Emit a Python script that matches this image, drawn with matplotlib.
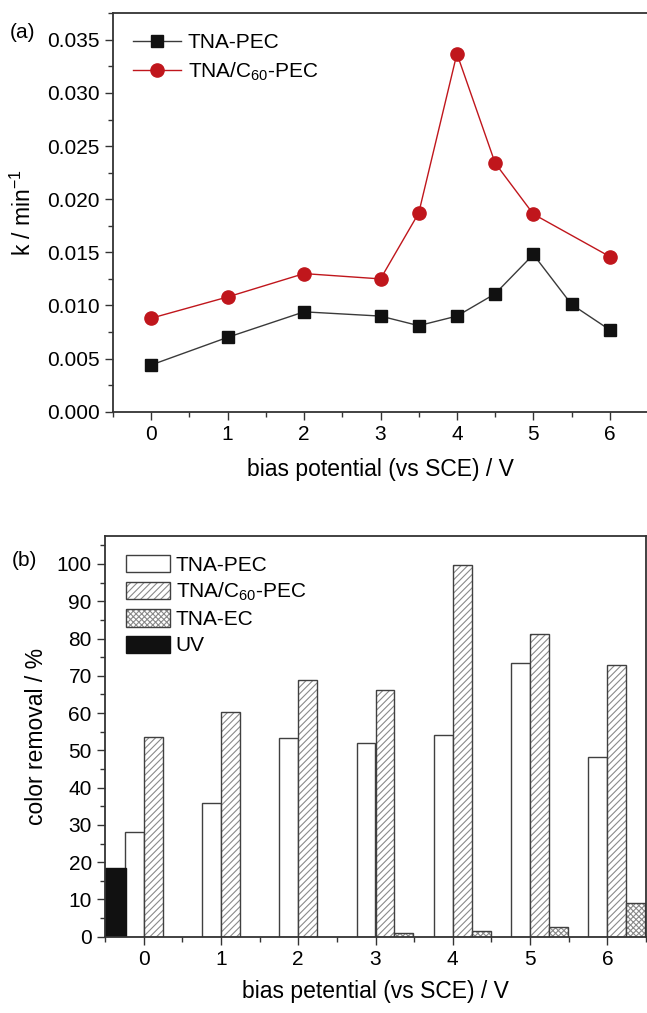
import numpy as np
import matplotlib
matplotlib.use('Agg')
import matplotlib.pyplot as plt
from matplotlib.ticker import MultipleLocator, AutoMinorLocator

plt.rcParams['font.family'] = ['Liberation Sans', 'DejaVu Sans']
plt.rcParams['mathtext.fontset'] = 'custom'
plt.rcParams['mathtext.rm'] = 'Liberation Sans'
plt.rcParams['mathtext.it'] = 'Liberation Sans'
plt.rcParams['mathtext.default'] = 'regular'
plt.rcParams['hatch.linewidth'] = 0.8

# (a) rate constants
x_pec = [0, 1, 2, 3, 3.5, 4, 4.5, 5, 5.5, 6]
k_pec = [0.0044, 0.0070, 0.0094, 0.0090, 0.0081, 0.0090, 0.0111, 0.0148, 0.0101, 0.0077]
x_c60 = [0, 1, 2, 3, 3.5, 4, 4.5, 5, 6]
k_c60 = [0.0088, 0.0108, 0.0130, 0.0125, 0.0187, 0.0337, 0.0234, 0.0186, 0.0146]

# (b) color removal
bias = [0, 1, 2, 3, 4, 5, 6]
removal_pec = [28.0, 35.8, 53.2, 52.1, 54.0, 73.5, 48.3]
removal_c60 = [53.5, 60.2, 68.9, 66.3, 99.6, 81.1, 72.9]
removal_ec = [0, 0, 0, 0.9, 1.6, 2.7, 9.1]
removal_uv = 18.5

fig = plt.figure(figsize=(6.47, 10.13), dpi=100)

# ---- panel (a)
ax1 = fig.add_axes([113/647, 1 - 411.7/1013, 535/647, (411.7 - 13.3)/1013])
ax1.plot(x_pec, k_pec, color='#3a3a3a', lw=1.0, marker='s', ms=8.5,
         mfc='#111111', mec='#111111', label='TNA-PEC')
ax1.plot(x_c60, k_c60, color='#c0161c', lw=1.0, marker='o', ms=9.5,
         mfc='#c0161c', mec='#c0161c', label='TNA/C$_{60}$-PEC')
ax1.set_xlim(-0.5, 6.5)
ax1.set_ylim(0, 0.0375)
ax1.xaxis.set_major_locator(MultipleLocator(1))
ax1.xaxis.set_minor_locator(MultipleLocator(0.5))
ax1.yaxis.set_major_locator(MultipleLocator(0.005))
ax1.yaxis.set_minor_locator(AutoMinorLocator(2))
ax1.yaxis.set_major_formatter(matplotlib.ticker.FormatStrFormatter('%.3f'))
ax1.set_xlabel('bias potential (vs SCE) / V', fontsize=16.5, labelpad=10)
ax1.set_ylabel('k / min$^{-1}$', fontsize=16.5, labelpad=8)
ax1.legend(loc='upper left', frameon=False, fontsize=15, handlelength=2.3,
           borderaxespad=0.55, labelspacing=0.4, handletextpad=0.35)

# ---- panel (b)
ax2 = fig.add_axes([105/647, 1 - 936.7/1013, 541/647, (936.7 - 536)/1013])
w = 0.245
xb = np.array(bias, dtype=float)
hatch_gray = '#8a8a8a'
edge = '#404040'

b_pec = ax2.bar(xb - w/2, removal_pec, w, color='white', edgecolor=edge, lw=1.0)
b_c60h = ax2.bar(xb + w/2, removal_c60, w, color='white', edgecolor=hatch_gray,
                 hatch='/////', lw=0)
b_c60 = ax2.bar(xb + w/2, removal_c60, w, fill=False, edgecolor=edge, lw=1.0)
ec_x = [b + 3*w/2 for b, v in zip(bias, removal_ec) if v > 0]
ec_v = [v for v in removal_ec if v > 0]
b_ech = ax2.bar(ec_x, ec_v, w, color='white', edgecolor=hatch_gray,
                hatch='xxxxxx', lw=0)
b_ec = ax2.bar(ec_x, ec_v, w, fill=False, edgecolor=edge, lw=1.0)
b_uv = ax2.bar([-0.5 + 0.135], [removal_uv], 0.27, color='#111111', edgecolor='#111111', lw=1.0)

ax2.set_xlim(-0.5, 6.5)
ax2.set_ylim(0, 107.5)
ax2.xaxis.set_major_locator(MultipleLocator(1))
ax2.xaxis.set_minor_locator(MultipleLocator(0.5))
ax2.yaxis.set_major_locator(MultipleLocator(10))
ax2.yaxis.set_minor_locator(AutoMinorLocator(2))
ax2.set_xlabel('bias petential (vs SCE) / V', fontsize=16.5, labelpad=8)
ax2.set_ylabel('color removal / %', fontsize=16.5, labelpad=6)

handles = [b_pec[0], (b_c60h[0], b_c60[0]), (b_ech[0], b_ec[0]), b_uv[0]]
labels = ['TNA-PEC', 'TNA/C$_{60}$-PEC', 'TNA-EC', 'UV']
ax2.legend(handles, labels, loc='upper left', frameon=False, fontsize=15,
           handlelength=2.1, handleheight=0.9, borderaxespad=0.6,
           labelspacing=0.3, handletextpad=0.3, bbox_to_anchor=(0.0, 1.005))

for ax in (ax1, ax2):
    ax.tick_params(which='major', direction='out', length=6, width=1.0,
                   labelsize=15, color='#333333')
    ax.tick_params(which='minor', direction='out', length=3.5, width=1.0,
                   color='#333333')
    for s in ax.spines.values():
        s.set_linewidth(1.3)
        s.set_color('#333333')

fig.text(10/647, 1 - 32/1013, '(a)', fontsize=15, va='center')
fig.text(12/647, 1 - 560/1013, '(b)', fontsize=15, va='center')

fig.savefig('out.png', dpi=100)
